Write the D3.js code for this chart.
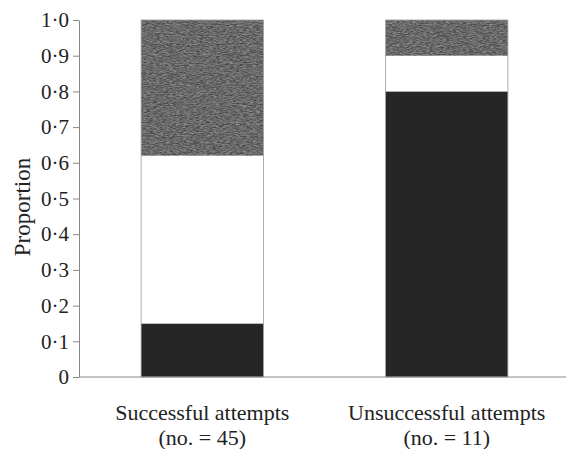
<!DOCTYPE html>
<html>
<head>
<meta charset="utf-8">
<script src="https://cdn.jsdelivr.net/npm/d3@7"></script>
<style>
  html, body { margin: 0; padding: 0; background: #fff; }
  svg { display: block; }
</style>
</head>
<body>
<div id="chart"></div>
<script>
// values
const groups = ["Successful attempts", "Unsuccessful attempts"];
const groupN = [45, 11];
const blackShare = [0.15, 0.80];
const whiteShare = [0.47, 0.10];
const greyShare = [0.38, 0.10];
const yTicks = [0, 0.1, 0.2, 0.3, 0.4, 0.5, 0.6, 0.7, 0.8, 0.9, 1.0];

const w = 566, h = 449;
const font = "'Liberation Serif', 'DejaVu Serif', serif";

const svg = d3.select("#chart").append("svg")
  .attr("width", w)
  .attr("height", h);

// grainy grey texture for the top segment, streaks run horizontally
const defs = svg.append("defs");
const grain = defs.append("filter")
  .attr("id", "grain")
  .attr("color-interpolation-filters", "sRGB")
  .attr("x", 0).attr("y", 0).attr("width", 1).attr("height", 1);
grain.append("feTurbulence")
  .attr("type", "fractalNoise")
  .attr("baseFrequency", "0.3 1.1")
  .attr("numOctaves", 2)
  .attr("seed", 7)
  .attr("result", "noise");
grain.append("feColorMatrix")
  .attr("in", "noise")
  .attr("type", "matrix")
  .attr("values", "0.5 0 0 0 0.16  0.5 0 0 0 0.16  0.5 0 0 0 0.16  0 0 0 0 1")
  .attr("result", "grey");
grain.append("feComposite")
  .attr("in", "grey")
  .attr("in2", "SourceGraphic")
  .attr("operator", "in");

const x = d3.scaleBand()
  .domain(groups)
  .range([80, 569])
  .paddingInner(0.5)
  .paddingOuter(0.25);

const y = d3.scaleLinear()
  .domain([0, 1])
  .range([377, 20]);

// stack the three shares per group
const rows = groups.map((g, i) => ({ group: g, black: blackShare[i], white: whiteShare[i], grey: greyShare[i] }));
const keys = ["black", "white", "grey"];
const fills = { black: "#262626", white: "#ffffff", grey: "#666" };
const stacked = d3.stack().keys(keys)(rows);

const layers = svg.append("g").selectAll("g")
  .data(stacked)
  .join("g");

layers.selectAll("rect")
  .data(d => d.map(v => ({ key: d.key, v })))
  .join("rect")
  .attr("x", d => x(d.v.data.group))
  .attr("width", x.bandwidth())
  .attr("y", d => y(d.v[1]))
  .attr("height", d => y(d.v[0]) - y(d.v[1]))
  .attr("fill", d => fills[d.key])
  .attr("filter", d => d.key === "grey" ? "url(#grain)" : null);

// thin outline round each bar
svg.append("g").selectAll("rect")
  .data(rows)
  .join("rect")
  .attr("x", d => x(d.group))
  .attr("width", x.bandwidth())
  .attr("y", y(1))
  .attr("height", y(0) - y(1))
  .attr("fill", "none")
  .attr("stroke", "#9a9a9a")
  .attr("stroke-width", 0.8);

// y axis
const yAxis = svg.append("g")
  .attr("transform", "translate(79,0)")
  .call(d3.axisLeft(y)
    .tickValues(yTicks)
    .tickSize(6)
    .tickSizeOuter(0)
    .tickPadding(4)
    .tickFormat(d => d === 0 ? "0" : d3.format(".1f")(d).replace(".", "·")));
yAxis.select(".domain").attr("stroke", "#888");
yAxis.selectAll(".tick line").attr("stroke", "#888");
yAxis.selectAll("text")
  .attr("fill", "#222")
  .style("font-family", font)
  .style("font-size", "21px");

// baseline
svg.append("line")
  .attr("x1", 79).attr("x2", 566)
  .attr("y1", y(0)).attr("y2", y(0))
  .attr("stroke", "#888");

// y title
svg.append("text")
  .attr("transform", "translate(30,207) rotate(-90)")
  .attr("text-anchor", "middle")
  .attr("fill", "#222")
  .style("font-family", font)
  .style("font-size", "23px")
  .text("Proportion");

// group labels, one text per line
const labelG = svg.append("g")
  .attr("fill", "#222")
  .attr("text-anchor", "middle")
  .style("font-family", font)
  .style("font-size", "22px");
labelG.selectAll("text.name")
  .data(groups)
  .join("text")
  .attr("class", "name")
  .attr("x", d => x(d) + x.bandwidth() / 2)
  .attr("y", 420)
  .text(d => d);
labelG.selectAll("text.count")
  .data(groups)
  .join("text")
  .attr("class", "count")
  .attr("x", d => x(d) + x.bandwidth() / 2)
  .attr("y", 445)
  .text((d, i) => `(no. = ${groupN[i]})`);
</script>
</body>
</html>
